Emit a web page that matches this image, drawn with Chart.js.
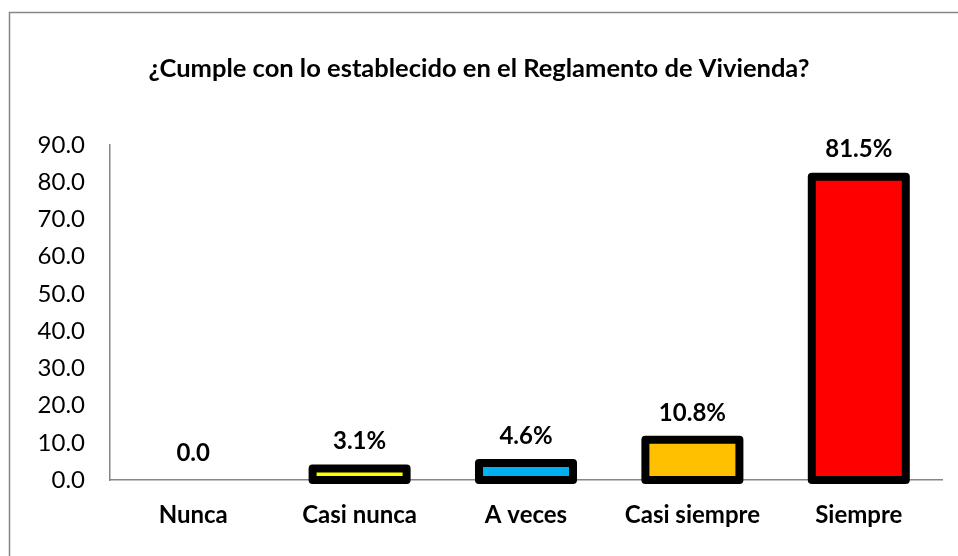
<!DOCTYPE html>
<html lang="es">
<head>
    <meta charset="UTF-8">
    <title>¿Cumple con lo establecido en el Reglamento de Vivienda?</title>
    <script src="https://cdn.jsdelivr.net/npm/chart.js@4/dist/chart.umd.min.js"></script>
    <style>
        body {
            margin: 0;
            background: #fff;
        }
        .chart-box {
            width: 958px;
            height: 556px;
        }
    </style>
</head>
<body>
    <div class="chart-box">
        <canvas id="viviendaChart"></canvas>
    </div>

    <script>
        // data
        const categories = ['Nunca', 'Casi nunca', 'A veces', 'Casi siempre', 'Siempre'];
        const percentages = [0.0, 3.1, 4.6, 10.8, 81.5];
        const valueLabels = ['0.0', '3.1%', '4.6%', '10.8%', '81.5%'];
        const barColors = ['#FFFF00', '#FFFF00', '#00B0F0', '#FFC000', '#FF0000'];
        const yTicks = [0, 10, 20, 30, 40, 50, 60, 70, 80, 90];
        const chartTitle = '¿Cumple con lo establecido en el Reglamento de Vivienda?';

        const fontFamily = 'Lato, "Open Sans", sans-serif';

        // grey frame round the chart (only top and left show in the picture) + title centred on the page
        const framePlugin = {
            id: 'frame',
            beforeDraw(chart) {
                const ctx = chart.ctx;
                ctx.save();
                ctx.fillStyle = '#fff';
                ctx.fillRect(0, 0, chart.width, chart.height);
                ctx.strokeStyle = '#868686';
                ctx.lineWidth = 1.5;
                ctx.strokeRect(9.5, 12.5, chart.width + 20, chart.height + 20);

                ctx.font = 'bold 25.5px ' + fontFamily;
                ctx.fillStyle = '#000';
                ctx.textAlign = 'center';
                ctx.textBaseline = 'middle';
                ctx.fillText(chartTitle, chart.width / 2, 69);
                ctx.restore();
            }
        };

        // Excel-style thick outline, centred on the bar edges, then the value labels
        const barOutlinePlugin = {
            id: 'barOutline',
            afterDatasetsDraw(chart) {
                const ctx = chart.ctx;
                const meta = chart.getDatasetMeta(0);
                ctx.save();
                ctx.strokeStyle = '#000';
                ctx.lineWidth = 8;
                ctx.lineJoin = 'round';
                meta.data.forEach(function(bar, i) {
                    if (!percentages[i]) return;
                    const p = bar.getProps(['x', 'y', 'base', 'width'], true);
                    ctx.strokeRect(p.x - p.width / 2, p.y, p.width, p.base - p.y);
                });

                ctx.font = 'bold 24px ' + fontFamily;
                ctx.fillStyle = '#000';
                ctx.textAlign = 'center';
                ctx.textBaseline = 'middle';
                meta.data.forEach(function(bar, i) {
                    ctx.fillText(valueLabels[i], bar.x, bar.y - 27);
                });
                ctx.restore();
            }
        };

        new Chart(document.getElementById('viviendaChart'), {
            type: 'bar',
            data: {
                labels: categories,
                datasets: [{
                    data: percentages,
                    backgroundColor: barColors,
                    borderWidth: 0,
                    categoryPercentage: 1.0,
                    barPercentage: 0.565
                }]
            },
            options: {
                responsive: true,
                maintainAspectRatio: false,
                animation: false,
                layout: {
                    padding: { left: 0, right: 16, top: 145, bottom: 0 }
                },
                plugins: {
                    legend: { display: false },
                    tooltip: { enabled: false },
                    title: { display: false }
                },
                scales: {
                    x: {
                        grid: { display: false, drawTicks: false, tickLength: 0 },
                        border: { display: true, color: '#868686', width: 1.5 },
                        ticks: {
                            color: '#000',
                            padding: 21,
                            font: { family: fontFamily, size: 24, weight: 'bold' }
                        },
                        afterFit(scale) { scale.height = 76; }
                    },
                    y: {
                        min: 0,
                        max: 90,
                        afterBuildTicks(scale) {
                            scale.ticks = yTicks.map(v => ({ value: v }));
                        },
                        grid: { display: false, drawTicks: false, tickLength: 0 },
                        border: { display: true, color: '#868686', width: 1.5 },
                        ticks: {
                            color: '#000',
                            padding: 25,
                            font: { family: fontFamily, size: 24 },
                            callback: v => Number(v).toFixed(1)
                        },
                        afterFit(scale) { scale.width = 110; }
                    }
                }
            },
            plugins: [framePlugin, barOutlinePlugin]
        });
    </script>
</body>
</html>
